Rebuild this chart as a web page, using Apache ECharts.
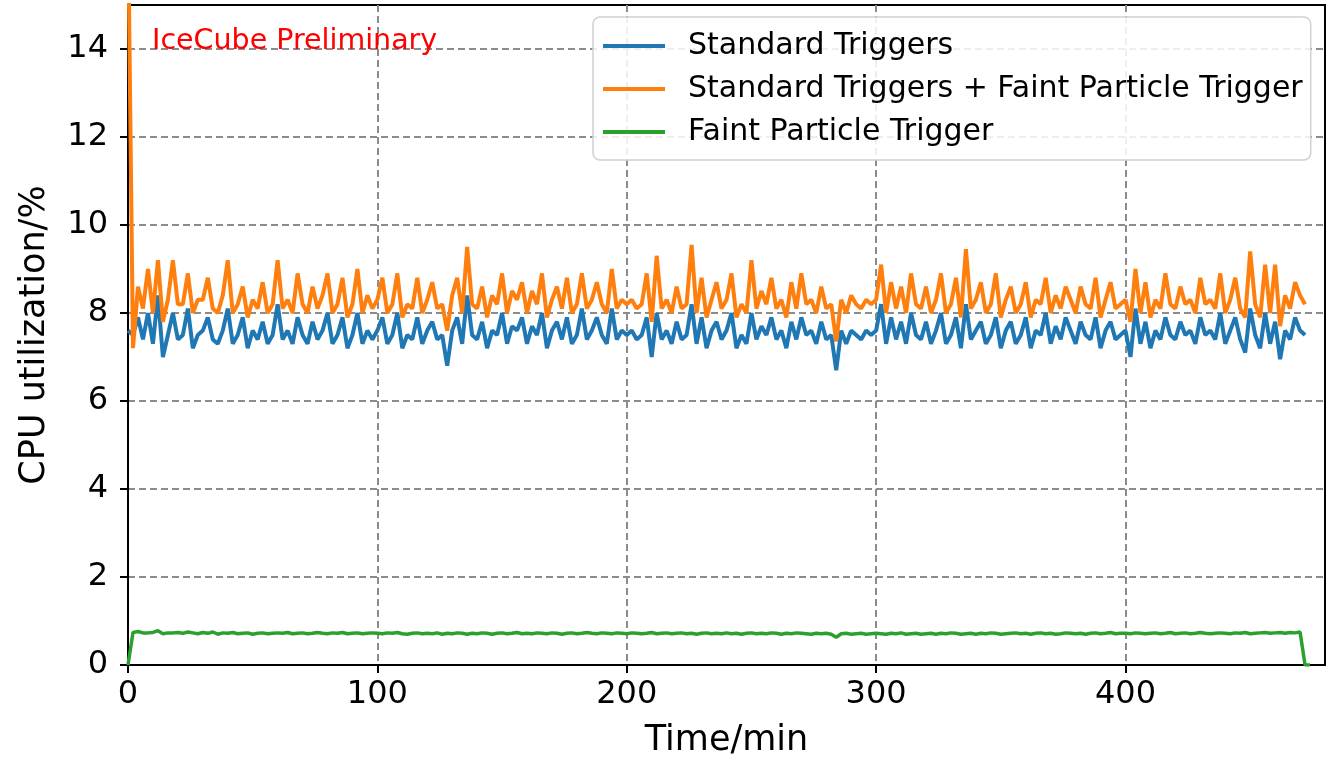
<!DOCTYPE html>
<html>
<head>
<meta charset="utf-8">
<script src="https://cdn.jsdelivr.net/npm/echarts@6/dist/echarts.min.js"></script>
<style>
  html, body { margin: 0; padding: 0; background: #fff; }
  #chart { width: 1332px; height: 757px; }
</style>
</head>
<body>
<div id="chart"></div>
<script>
// sample step in minutes, one value every 2 min
var sampleStep = 2;
var endTime = 478;

var xTicks = [0, 100, 200, 300, 400];
var yTicks = [0, 2, 4, 6, 8, 10, 12, 14];

var seriesNames = ['Standard Triggers', 'Standard Triggers + Faint Particle Trigger', 'Faint Particle Trigger'];

var standard = [
  7.6, 7.5, 7.9, 7.4, 8.0, 7.3, 8.4, 7.0, 7.5, 8.0,
  7.4, 7.5, 8.1, 7.2, 7.5, 7.6, 7.9, 7.4, 7.3, 7.6,
  8.1, 7.3, 7.5, 7.9, 7.2, 7.6, 7.4, 7.8, 7.3, 7.5,
  8.2, 7.4, 7.6, 7.3, 7.9, 7.5, 7.3, 7.8, 7.4, 7.6,
  8.0, 7.3, 7.5, 7.9, 7.2, 7.5, 8.0, 7.3, 7.6, 7.4,
  7.6, 7.9, 7.3, 7.5, 8.0, 7.2, 7.5, 7.4, 7.9, 7.3,
  7.6, 7.8, 7.4, 7.5, 6.8, 7.6, 7.9, 7.3, 8.4, 7.5,
  7.4, 7.8, 7.2, 7.6, 7.5, 8.0, 7.3, 7.7, 7.6, 7.9,
  7.3, 7.7, 7.5, 8.0, 7.2, 7.6, 7.8, 7.4, 7.9, 7.3,
  7.5, 8.1, 7.4, 7.6, 7.9, 7.5, 7.3, 8.1, 7.4, 7.6,
  7.5, 7.6, 7.4, 7.5, 7.9, 7.0, 8.0, 7.4, 7.6, 7.3,
  7.8, 7.4, 7.5, 8.2, 7.3, 7.9, 7.2, 7.6, 7.8, 7.4,
  7.6, 8.0, 7.2, 7.5, 7.3, 8.0, 7.4, 7.7, 7.5, 7.9,
  7.4, 7.6, 7.2, 7.8, 7.4, 7.9, 7.5, 7.6, 7.3, 7.8,
  7.4, 7.5, 6.7, 7.6, 7.3, 7.6, 7.5, 7.4, 7.6, 7.5,
  7.6, 8.2, 7.3, 7.9, 7.4, 7.8, 7.3, 8.0, 7.5, 7.4,
  7.8, 7.3, 7.6, 8.0, 7.3, 7.5, 7.9, 7.2, 8.2, 7.4,
  7.6, 7.8, 7.3, 7.5, 7.9, 7.2, 7.6, 7.8, 7.3, 7.5,
  7.9, 7.2, 7.6, 7.5, 8.0, 7.3, 7.7, 7.4, 7.9, 7.6,
  7.3, 7.8, 7.5, 7.4, 7.9, 7.2, 7.6, 7.8, 7.4, 7.5,
  7.6, 7.0, 8.1, 7.3, 7.8, 7.2, 7.6, 7.4, 7.9, 7.5,
  7.4, 7.8, 7.5, 7.6, 7.3, 7.9, 7.5, 7.6, 7.4, 8.0,
  7.3, 7.6, 7.9, 7.4, 7.1, 8.1, 7.5, 7.2, 8.0, 7.3,
  7.8, 6.95, 7.6, 7.4, 7.9, 7.6, 7.5
];

var standardPlusFaint = [
  17.0, 7.2, 8.6, 8.1, 9.0, 8.0, 9.2, 7.8, 8.3, 9.2,
  8.2, 8.2, 8.9, 8.0, 8.3, 8.3, 8.8, 8.1, 8.0, 8.4,
  9.2, 8.0, 8.2, 8.6, 7.9, 8.3, 8.1, 8.7, 8.0, 8.2,
  9.2, 8.1, 8.3, 8.0, 8.9, 8.2, 8.0, 8.6, 8.1, 8.4,
  8.9, 8.0, 8.2, 8.8, 7.9, 8.2, 9.0, 8.0, 8.4, 8.1,
  8.3, 8.8, 8.0, 8.2, 8.9, 7.9, 8.2, 8.1, 8.8, 8.0,
  8.3, 8.7, 8.1, 8.2, 7.6, 8.4, 8.8, 8.0, 9.5, 8.2,
  8.1, 8.6, 7.9, 8.4, 8.2, 8.9, 8.0, 8.5, 8.3, 8.7,
  8.0, 8.5, 8.2, 8.9, 7.9, 8.3, 8.6, 8.1, 8.8, 8.0,
  8.2, 8.9, 8.1, 8.3, 8.7, 8.2, 8.0, 9.0, 8.1, 8.3,
  8.2, 8.3, 8.1, 8.2, 8.9, 7.8, 9.3, 8.1, 8.3, 8.0,
  8.6, 8.1, 8.2, 9.55, 8.0, 8.8, 7.9, 8.3, 8.7, 8.1,
  8.3, 8.9, 7.9, 8.2, 8.0, 9.2, 8.1, 8.5, 8.2, 8.8,
  8.1, 8.3, 7.9, 8.7, 8.1, 8.9, 8.2, 8.3, 8.0, 8.6,
  8.1, 8.2, 7.35, 8.3, 8.0, 8.4, 8.2, 8.1, 8.3, 8.2,
  8.3, 9.1, 8.0, 8.7, 8.1, 8.6, 8.0, 8.9, 8.2, 8.1,
  8.6, 8.0, 8.3, 8.9, 8.0, 8.2, 8.8, 7.9, 9.45, 8.1,
  8.3, 8.7, 8.0, 8.2, 8.9, 7.9, 8.3, 8.6, 8.0, 8.2,
  8.7, 7.9, 8.3, 8.2, 8.8, 8.0, 8.4, 8.1, 8.6, 8.3,
  8.0, 8.6, 8.2, 8.1, 8.8, 7.9, 8.3, 8.7, 8.1, 8.2,
  8.3, 7.8, 9.0, 8.0, 8.7, 7.9, 8.3, 8.1, 8.9, 8.2,
  8.1, 8.6, 8.2, 8.3, 8.0, 8.8, 8.2, 8.3, 8.1, 8.9,
  8.0, 8.3, 8.8, 8.1, 7.9, 9.4, 8.2, 7.9, 9.1, 8.0,
  9.1, 7.7, 8.4, 8.1, 8.7, 8.4, 8.2
];

var faint = [
  0, 0.74, 0.76, 0.73, 0.73, 0.74, 0.78, 0.71, 0.73, 0.73,
  0.74, 0.72, 0.75, 0.73, 0.71, 0.74, 0.72, 0.75, 0.70, 0.73,
  0.72, 0.74, 0.71, 0.72, 0.73, 0.70, 0.72, 0.73, 0.71, 0.72,
  0.73, 0.72, 0.74, 0.71, 0.72, 0.73, 0.71, 0.72, 0.74, 0.72,
  0.71, 0.73, 0.72, 0.74, 0.71, 0.72, 0.73, 0.71, 0.72, 0.73,
  0.72, 0.71, 0.73, 0.72, 0.74, 0.71, 0.70, 0.72, 0.73, 0.71,
  0.72, 0.71, 0.73, 0.70, 0.72, 0.71, 0.73, 0.72, 0.70, 0.72,
  0.71, 0.73, 0.72, 0.70, 0.72, 0.73, 0.71, 0.72, 0.74, 0.71,
  0.72, 0.71, 0.73, 0.72, 0.71, 0.73, 0.72, 0.70, 0.72, 0.73,
  0.71, 0.72, 0.74, 0.72, 0.71, 0.73, 0.72, 0.71, 0.73, 0.72,
  0.71, 0.73, 0.72, 0.71, 0.72, 0.74, 0.71, 0.72, 0.73, 0.71,
  0.72, 0.73, 0.71, 0.72, 0.70, 0.72, 0.73, 0.71, 0.72, 0.71,
  0.73, 0.71, 0.72, 0.70, 0.72, 0.73, 0.71, 0.72, 0.71, 0.73,
  0.72, 0.70, 0.72, 0.71, 0.73, 0.72, 0.71, 0.70, 0.72, 0.71,
  0.72, 0.70, 0.63, 0.71, 0.72, 0.70, 0.71, 0.72, 0.70, 0.71,
  0.72, 0.71, 0.70, 0.72, 0.71, 0.73, 0.70, 0.71, 0.72, 0.70,
  0.71, 0.72, 0.70, 0.72, 0.71, 0.73, 0.72, 0.70, 0.71, 0.72,
  0.70, 0.72, 0.71, 0.73, 0.72, 0.70, 0.71, 0.72, 0.73, 0.71,
  0.72, 0.70, 0.72, 0.73, 0.71, 0.72, 0.70, 0.71, 0.73, 0.72,
  0.71, 0.72, 0.70, 0.72, 0.73, 0.71, 0.72, 0.74, 0.71, 0.72,
  0.72, 0.71, 0.73, 0.72, 0.71, 0.72, 0.73, 0.71, 0.72, 0.74,
  0.71, 0.72, 0.73, 0.71, 0.72, 0.74, 0.72, 0.71, 0.72, 0.73,
  0.72, 0.71, 0.73, 0.72, 0.74, 0.71, 0.72, 0.73, 0.74, 0.72,
  0.73, 0.74, 0.72, 0.74, 0.73, 0.75, 0,
  0
];

function toPoints(values) {
  var pts = [];
  for (var i = 0; i < values.length; i++) {
    // last green sample sits at the end of the run
    var t = i * sampleStep;
    if (t > standard.length * sampleStep) t = endTime;
    pts.push([t, values[i]]);
  }
  return pts;
}

var font = 'DejaVu Sans';
var chart = echarts.init(document.getElementById('chart'));

var gridLine = {
  show: true,
  lineStyle: { color: '#8c8c8c', width: 2, type: [7, 4] }
};

var option = {
  animation: false,
  title: {
    text: 'IceCube Preliminary',
    left: 152,
    top: 27,
    padding: 0,
    textStyle: { color: '#ff0000', fontSize: 28.5, fontWeight: 'normal', fontFamily: font }
  },
  grid: {
    left: 128, top: 5, width: 1197, height: 660,
    outerBoundsMode: 'none',
    containLabel: false,
    show: true, borderColor: '#000', borderWidth: 2, backgroundColor: '#fff'
  },
  legend: {
    orient: 'vertical',
    left: 593, top: 17,
    padding: [14, 8, 13, 10],
    itemGap: 13,
    itemWidth: 62, itemHeight: 4,
    icon: 'rect',
    backgroundColor: 'rgba(255,255,255,0.85)',
    borderColor: '#d0d0d0', borderWidth: 1.5, borderRadius: 7,
    textStyle: { fontSize: 30, color: '#000', fontFamily: font, padding: [0, 0, 0, 18], lineHeight: 30 },
    data: seriesNames
  },
  xAxis: {
    type: 'value',
    min: 0, max: 480,
    name: 'Time/min',
    nameLocation: 'middle',
    nameGap: 58,
    nameTextStyle: { fontSize: 35, color: '#000', fontFamily: font },
    axisLine: { show: true, lineStyle: { color: '#000', width: 2 } },
    axisTick: { show: true, length: 8, lineStyle: { color: '#000', width: 2 }, customValues: xTicks },
    axisLabel: { fontSize: 32, color: '#000', fontFamily: font, margin: 14, customValues: xTicks },
    splitLine: gridLine
  },
  yAxis: {
    type: 'value',
    min: 0, max: 15,
    name: 'CPU utilization/%',
    nameLocation: 'middle',
    nameGap: 76,
    nameTextStyle: { fontSize: 35, color: '#000', fontFamily: font },
    axisLine: { show: true, lineStyle: { color: '#000', width: 2 } },
    axisTick: { show: true, length: 8, lineStyle: { color: '#000', width: 2 }, customValues: yTicks },
    axisLabel: { fontSize: 32, color: '#000', fontFamily: font, margin: 20, customValues: yTicks },
    splitLine: gridLine
  },
  series: [
    {
      name: seriesNames[0], type: 'line', symbol: 'none', clip: true,
      lineStyle: { color: '#1f77b4', width: 4 }, itemStyle: { color: '#1f77b4' },
      data: toPoints(standard)
    },
    {
      name: seriesNames[1], type: 'line', symbol: 'none', clip: true,
      lineStyle: { color: '#ff7f0e', width: 4 }, itemStyle: { color: '#ff7f0e' },
      data: toPoints(standardPlusFaint)
    },
    {
      name: seriesNames[2], type: 'line', symbol: 'none', clip: true,
      lineStyle: { color: '#2ca02c', width: 3.5 }, itemStyle: { color: '#2ca02c' },
      data: toPoints(faint)
    }
  ]
};

chart.setOption(option);
window.addEventListener('resize', function () { chart.resize(); });
</script>
</body>
</html>
